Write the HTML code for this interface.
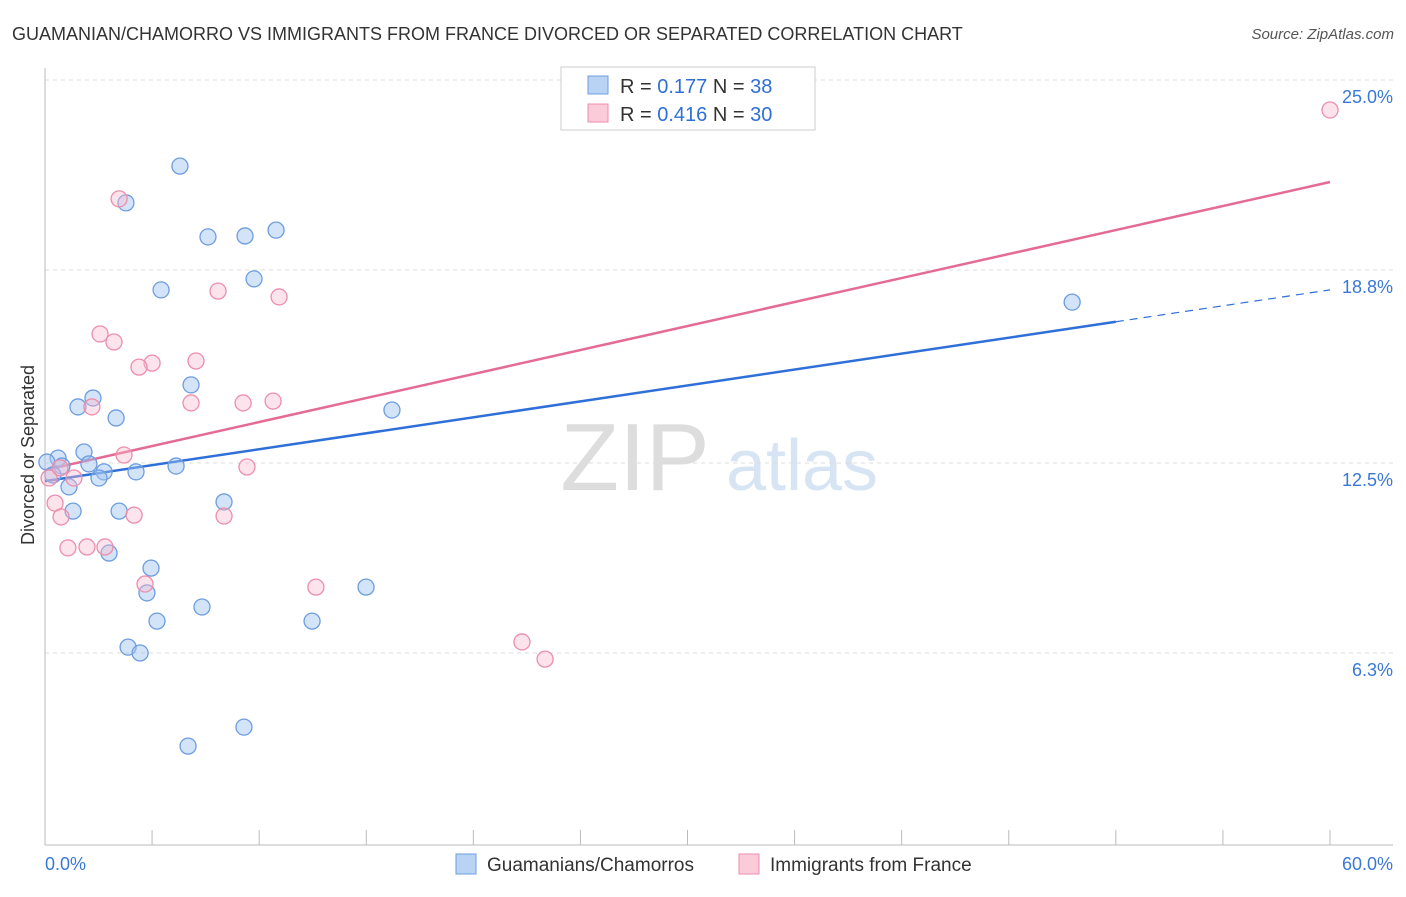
<!DOCTYPE html>
<html><head><meta charset="utf-8">
<style>
body{margin:0;background:#fff;font-family:"Liberation Sans",sans-serif;}
svg text{font-family:"Liberation Sans",sans-serif;}
</style></head>
<body>
<svg id="chart" width="1406" height="892" viewBox="0 0 1406 892" xmlns="http://www.w3.org/2000/svg">
<text x="12" y="40" font-size="18" fill="#333">GUAMANIAN/CHAMORRO VS IMMIGRANTS FROM FRANCE DIVORCED OR SEPARATED CORRELATION CHART</text>
<text x="1394" y="39" font-size="15" fill="#555" font-style="italic" text-anchor="end">Source: ZipAtlas.com</text>
<g>
<text x="635" y="490" font-size="96" fill="#ddd" text-anchor="middle" font-family="Liberation Serif">ZIP</text>
<text x="802" y="490" font-size="72" fill="#d7e4f4" text-anchor="middle">atlas</text>
</g>
<g id="grid"></g>
<g id="axes"></g>
<text transform="translate(34,455) rotate(-90)" font-size="18" fill="#333" text-anchor="middle">Divorced or Separated</text>
<g id="trend"></g>
<g id="points"></g>
<g>
<rect x="561" y="67" width="254" height="63" fill="#fff" stroke="#ccc"/>
<rect x="588" y="76" width="20" height="18" fill="#b9d3f5" stroke="#6d9de0"/>
<rect x="588" y="104" width="20" height="18" fill="#fccbd9" stroke="#ec8eac"/>
<text x="620" y="93" font-size="20" fill="#333">R = <tspan fill="#2f6fd8">0.177</tspan>  N = <tspan fill="#2f6fd8">38</tspan></text>
<text x="620" y="121" font-size="20" fill="#333">R = <tspan fill="#2f6fd8">0.416</tspan>  N = <tspan fill="#2f6fd8">30</tspan></text>
</g>
<g>
<rect x="456" y="854" width="20" height="20" fill="#b9d3f5" stroke="#6d9de0"/>
<text x="487" y="871" font-size="19" fill="#333">Guamanians/Chamorros</text>
<rect x="739" y="854" width="20" height="20" fill="#fccbd9" stroke="#ec8eac"/>
<text x="770" y="871" font-size="19" fill="#333">Immigrants from France</text>
</g>
</svg>
<script>
const yTicks=[25.0,18.8,12.5,6.3];
const yTickLabels=["25.0%","18.8%","12.5%","6.3%"];
const xTickLabels=["0.0%","60.0%"];
const blueX=[6.30,3.78,7.61,9.34,10.79,9.76,5.42,47.96,2.24,1.54,6.82,3.32,16.20,1.82,0.61,0.09,0.79,2.05,2.76,4.25,6.12,0.37,2.52,1.12,8.36,1.31,3.46,2.99,4.95,4.76,7.33,5.23,12.47,14.99,3.88,4.44,9.29,6.68];
const blueY=[22.19,20.99,19.88,19.91,20.10,18.51,18.15,17.75,14.62,14.33,15.05,13.97,14.23,12.86,12.66,12.53,12.40,12.47,12.21,12.21,12.40,12.11,12.01,11.72,11.23,10.93,10.93,9.56,9.07,8.26,7.80,7.34,7.34,8.45,6.49,6.30,3.88,3.26];
const pinkX=[31.29,60.0,3.46,8.08,10.93,2.57,3.22,5.00,4.39,7.05,2.19,6.82,9.25,10.65,3.69,9.43,0.70,0.19,1.35,0.47,0.75,4.16,8.36,1.07,1.96,2.80,4.67,12.65,22.27,23.35];
const pinkY=[25.0,24.02,21.12,18.11,17.92,16.71,16.45,15.76,15.63,15.83,14.33,14.46,14.46,14.52,12.76,12.37,12.34,12.01,12.01,11.19,10.74,10.80,10.77,9.73,9.76,9.76,8.55,8.45,6.66,6.10];
const blueTrend=[11.91,18.15];
const pinkTrend=[12.27,21.67];
const blueSolidEnd=50;
const X0=45,X1=1330,YTOP=80,PPU=30.64;
const xs=v=>X0+(X1-X0)*v/60;
const ys=v=>YTOP+(25-v)*PPU;
const NS="http://www.w3.org/2000/svg";
function mk(tag,attrs,parent){const e=document.createElementNS(NS,tag);for(const k in attrs)e.setAttribute(k,attrs[k]);document.getElementById(parent).appendChild(e);return e;}
yTicks.forEach((t,i)=>{
 const l=mk('line',{x1:X0,x2:1393,y1:ys(t),y2:ys(t),stroke:'#ddd','stroke-dasharray':'4,4'},'grid');
 
 
 const tx=mk('text',{x:1393,y:ys(t)+23,'font-size':18,fill:'#3a78d8','text-anchor':'end'},'grid');
 tx.textContent=yTickLabels[i];
 
 
});
const ax=mk('line',{x1:X0,x2:1393,y1:845,y2:845,stroke:'#bbb'},'axes');


const ay=mk('line',{x1:X0,x2:X0,y1:68,y2:845,stroke:'#bbb'},'axes');


for(let i=0;i<=12;i++){
 const tk=mk('line',{x1:xs(i*5),x2:xs(i*5),y1:830,y2:845,stroke:'#bbb'},'axes');
 
 
}
[[0,'start',45],[60,'end',1393]].forEach((d,i)=>{
 const t=mk('text',{x:d[2],y:870,'font-size':18,fill:'#3a78d8','text-anchor':d[1]},'axes');
 t.textContent=xTickLabels[i];
 
 
});
const bl=v=>blueTrend[0]+(blueTrend[1]-blueTrend[0])*v/60;
const pl=v=>pinkTrend[0]+(pinkTrend[1]-pinkTrend[0])*v/60;
const t1=mk('line',{x1:xs(0),y1:ys(bl(0)),x2:xs(blueSolidEnd),y2:ys(bl(blueSolidEnd)),stroke:'#2f6fd8','stroke-width':2.5},'trend');


const t2=mk('line',{x1:xs(blueSolidEnd),y1:ys(bl(blueSolidEnd)),x2:xs(60),y2:ys(bl(60)),stroke:'#2f6fd8','stroke-width':1.2,'stroke-dasharray':'8,6'},'trend');


const t3=mk('line',{x1:xs(0),y1:ys(pl(0)),x2:xs(60),y2:ys(pl(60)),stroke:'#e46b93','stroke-width':2.5},'trend');


blueX.forEach((v,i)=>{
 const c=mk('circle',{cx:xs(v),cy:ys(blueY[i]),r:8,fill:'rgba(160,196,240,0.45)',stroke:'#6d9de0','stroke-width':1.3},'points');
 
 
});
pinkX.forEach((v,i)=>{
 const c=mk('circle',{cx:xs(v),cy:ys(pinkY[i]),r:8,fill:'rgba(250,185,205,0.4)',stroke:'#ec8eac','stroke-width':1.3},'points');
 
 
});
</script>
</body></html>
